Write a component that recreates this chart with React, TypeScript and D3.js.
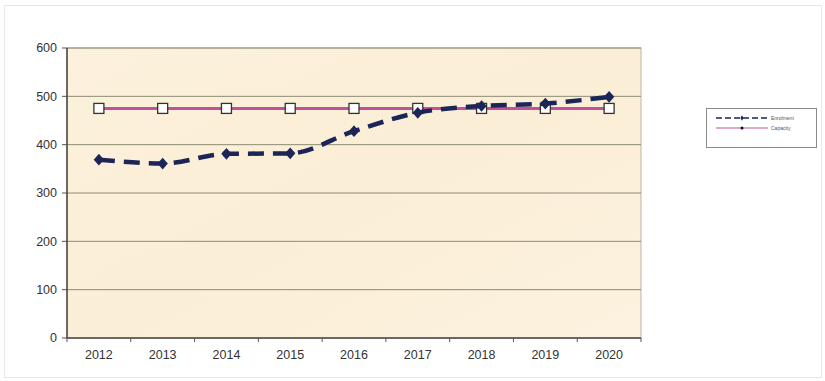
import React from "react";
import * as d3 from "d3";

const years = ["2012", "2013", "2014", "2015", "2016", "2017", "2018", "2019", "2020"];
const enrolment = [369, 361, 381, 382, 428, 466, 480, 485, 499];
const capacity = [475, 475, 475, 475, 475, 475, 475, 475, 475];
const yTicks = [0, 100, 200, 300, 400, 500, 600];
const seriesNames = ["Enrolment", "Capacity"];

export default function App() {
  const W = 825, H = 381;
  const left = 67, right = 641, top = 48, bottom = 338;
  const x = d3.scaleBand<string>().domain(years).range([left, right]);
  const y = d3.scaleLinear().domain([0, 600]).range([bottom, top]);
  const cx = (d: string) => (x(d) as number) + x.bandwidth() / 2;
  const line = d3.line<number>().x((_, i) => cx(years[i])).y((v) => y(v)).curve(d3.curveMonotoneX);
  const lineStraight = d3.line<number>().x((_, i) => cx(years[i])).y((v) => y(v));
  const diamond = d3.symbol().type(d3.symbolDiamond).size(55)();
  const navy = "#1b2557";
  const pink = "#c2509a";
  const lx0 = 716, lx1 = 768;
  return (
    <svg width={W} height={H} style={{ position: "absolute", left: 0, top: 0, background: "#fff" }}
      fontFamily="Arial, 'Liberation Sans', sans-serif">
      <defs>
        <linearGradient id="bg" x1="0" y1="0" x2="1" y2="1">
          <stop offset="0" stopColor="#fcf1dc" />
          <stop offset="0.5" stopColor="#fbeed6" />
          <stop offset="1" stopColor="#fcf2df" />
        </linearGradient>
      </defs>
      <rect x={4.5} y={5.5} width={817} height={372} fill="none" stroke="#d0d0d0" strokeDasharray="1,1" />
      <rect x={left} y={top} width={right - left} height={bottom - top} fill="url(#bg)" stroke="#b9b5a8" strokeWidth={1} />
      {yTicks.map((t) => (
        <g key={t}>
          {t > 0 && <line x1={left} x2={right} y1={y(t)} y2={y(t)} stroke="#8c8b74" strokeWidth={1} />}
          <line x1={left - 5} x2={left} y1={y(t)} y2={y(t)} stroke="#555" />
          <text x={left - 10} y={y(t)} dy="0.35em" textAnchor="end" fontSize={12.5} fill="#333">{t}</text>
        </g>
      ))}
      <line x1={left} x2={left} y1={top} y2={bottom} stroke="#444" strokeWidth={1.5} />
      <line x1={left} x2={right} y1={bottom} y2={bottom} stroke="#444" strokeWidth={1.5} />
      {years.map((yr) => (
        <g key={yr}>
          <line x1={x(yr) as number} x2={x(yr) as number} y1={bottom} y2={bottom + 4} stroke="#555" />
          <text x={cx(yr)} y={bottom + 21} textAnchor="middle" fontSize={12.5} fill="#333">{yr}</text>
        </g>
      ))}
      <line x1={right} x2={right} y1={bottom} y2={bottom + 4} stroke="#555" />
      <path d={lineStraight(capacity) || ""} fill="none" stroke={pink} strokeWidth={3} />
      {capacity.map((v, i) => (
        <rect key={i} x={cx(years[i]) - 5} y={y(v) - 5} width={10} height={10} fill="#fff" stroke="#333" strokeWidth={1.3} />
      ))}
      <path d={line(enrolment) || ""} fill="none" stroke={navy} strokeWidth={4.5} strokeDasharray="16,9" />
      {enrolment.map((v, i) => (
        <path key={i} d={diamond || ""} transform={`translate(${cx(years[i])},${y(v)}) scale(1.3,0.85)`} fill={navy} />
      ))}
      <rect x={706.5} y={108.5} width={110} height={39} fill="#fff" stroke="#8a8a8a" />
      <line x1={lx0} x2={lx1} y1={118} y2={118} stroke={navy} strokeWidth={1.5} strokeDasharray="6,3" />
      <path d={d3.symbol().type(d3.symbolDiamond).size(8)() || ""} transform={`translate(${(lx0 + lx1) / 2},118)`} fill={navy} />
      <text x={lx1 + 3} y={118} dy="0.35em" fontSize={5} fill="#555">{seriesNames[0]}</text>
      <line x1={lx0} x2={lx1} y1={128} y2={128} stroke={pink} strokeWidth={1} />
      <circle cx={(lx0 + lx1) / 2} cy={128} r={1.5} fill="#111" />
      <text x={lx1 + 3} y={128} dy="0.35em" fontSize={5} fill="#555">{seriesNames[1]}</text>
    </svg>
  );
}
